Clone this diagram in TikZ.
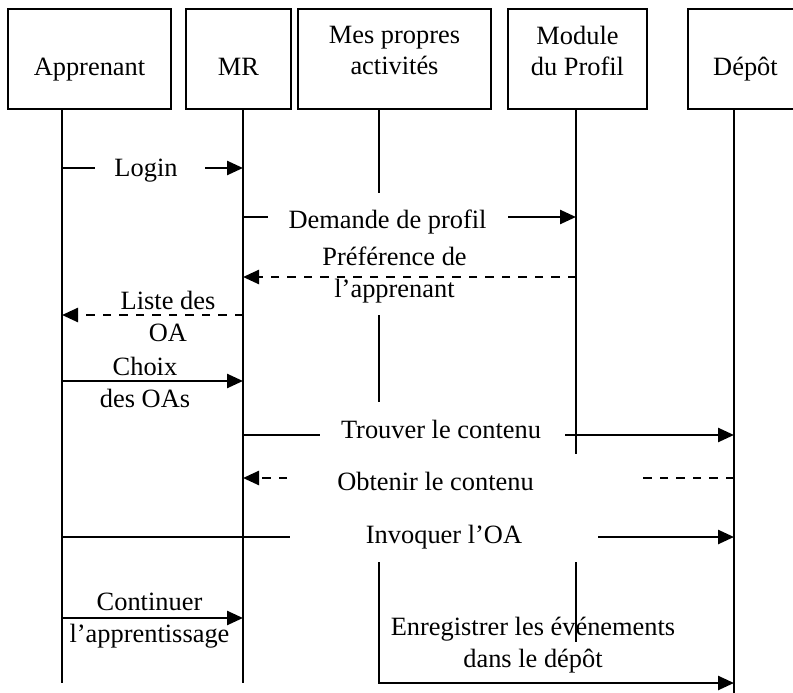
\documentclass[tikz,border=0pt]{standalone}
\usepackage{fontspec}
\setmainfont{Liberation Serif}
\usetikzlibrary{arrows.meta}

\begin{document}
\begin{tikzpicture}[x=1pt, y=-1pt,
  % multi-line labels are placed by the baseline of their last line
  txt/.style={font=\fontsize{26.4}{31.5}\selectfont, inner sep=0pt, anchor=base, align=center},
  actor/.style={draw, line width=1.8pt, minimum height=100pt, inner sep=0pt},
  lifeline/.style={line width=1.8pt},
  msg/.style={line width=2.5pt},
  reply/.style={msg, dash pattern=on 8.5pt off 8pt},
  tip/.style={-{Triangle[length=16pt,width=14pt]}}]

\path[use as bounding box, clip] (0,0) rectangle (793,693);

% participants
\node[actor, minimum width=163pt] (app) at (89.5,59) {};
\node[actor, minimum width=105pt] (mr)  at (238.5,59) {};
\node[actor, minimum width=193pt] (mpa) at (394.5,59) {};
\node[actor, minimum width=139pt] (mod) at (577.5,59) {};
\node[actor, minimum width=115pt] (dep) at (745.5,59) {};

\node[txt] (app-name) at (89.5,76)  {Apprenant};
\node[txt] (mr-name)  at (238.5,76) {MR};
\node[txt] (mpa-name) at (394.5,75) {Mes propres\\activités};
\node[txt] (mod-name) at (577.5,76) {Module\\du Profil};
\node[txt] (dep-name) at (745.5,76) {Dépôt};

% lifeline feet
\coordinate (appL) at (62,109);
\coordinate (mrL)  at (243,109);
\coordinate (mpaL) at (379,109);
\coordinate (modL) at (576,109);
\coordinate (depL) at (734,109);

% lifelines
\draw[lifeline] (appL) -- (appL |- 0,683);
\draw[lifeline] (mrL)  -- (mrL |- 0,683);
\draw[lifeline] (mpaL) -- (mpaL |- 0,193);
\draw[lifeline] (mpaL |- 0,315) -- (mpaL |- 0,402);
\draw[lifeline] (mpaL |- 0,562) -- (mpaL |- 0,684.2);
\draw[lifeline] (modL) -- (modL |- 0,454);
\draw[lifeline] (modL |- 0,562) -- (modL |- 0,642);
\draw[lifeline] (depL) -- (depL |- 0,700);

% gap ends beside the labels
\coordinate (login-l) at (95,168);   \coordinate (login-r) at (205,168);
\coordinate (dem-l) at (268,217);    \coordinate (dem-r) at (508,217);
\coordinate (trv-l) at (320,435);    \coordinate (trv-r) at (565,435);
\coordinate (obt-l) at (287,478);    \coordinate (obt-r) at (637,478);
\coordinate (inv-l) at (290,537);    \coordinate (inv-r) at (598,537);

% messages
\draw[msg] (appL |- login-l) -- (login-l);
\draw[msg, tip] (login-r) -- (mrL |- login-r);
\node[txt] (login) at (146,176) {Login};

\draw[msg] (mrL |- dem-l) -- (dem-l);
\draw[msg, tip] (dem-r) -- (modL |- dem-r);
\node[txt] (dem) at (387.5,228) {Demande de profil};

\draw[reply, tip] (modL |- 0,277) -- (mrL |- 0,277);
\node[txt] (pref) at (394.5,297) {Préférence de\\l’apprenant};

\draw[reply, tip] (mrL |- 0,315) -- (appL |- 0,315);
\node[txt] (liste) at (168,341) {Liste des\\OA};

\draw[msg, tip] (appL |- 0,381) -- (mrL |- 0,381);
\node[txt] (choix) at (145,407) {Choix\\des OAs};

\draw[msg] (mrL |- trv-l) -- (trv-l);
\draw[msg, tip] (trv-r) -- (depL |- trv-r);
\node[txt] (trv) at (441,438) {Trouver le contenu};

\draw[reply] (depL |- obt-r) -- (obt-r);
\draw[reply, tip] (obt-l) -- (mrL |- obt-l);
\node[txt] (obt) at (435.5,490) {Obtenir le contenu};

\draw[msg] (appL |- inv-l) -- (inv-l);
\draw[msg, tip] (inv-r) -- (depL |- inv-r);
\node[txt] (inv) at (444,543) {Invoquer l’OA};

\draw[msg, tip] (appL |- 0,618) -- (mrL |- 0,618);
\node[txt] (cont) at (149.5,642) {Continuer\\l’apprentissage};

\draw[msg, tip] (mpaL |- 0,683) -- (depL |- 0,683);
\node[txt] (enr) at (533,667) {Enregistrer les événements\\dans le dépôt};
\end{tikzpicture}
\end{document}
